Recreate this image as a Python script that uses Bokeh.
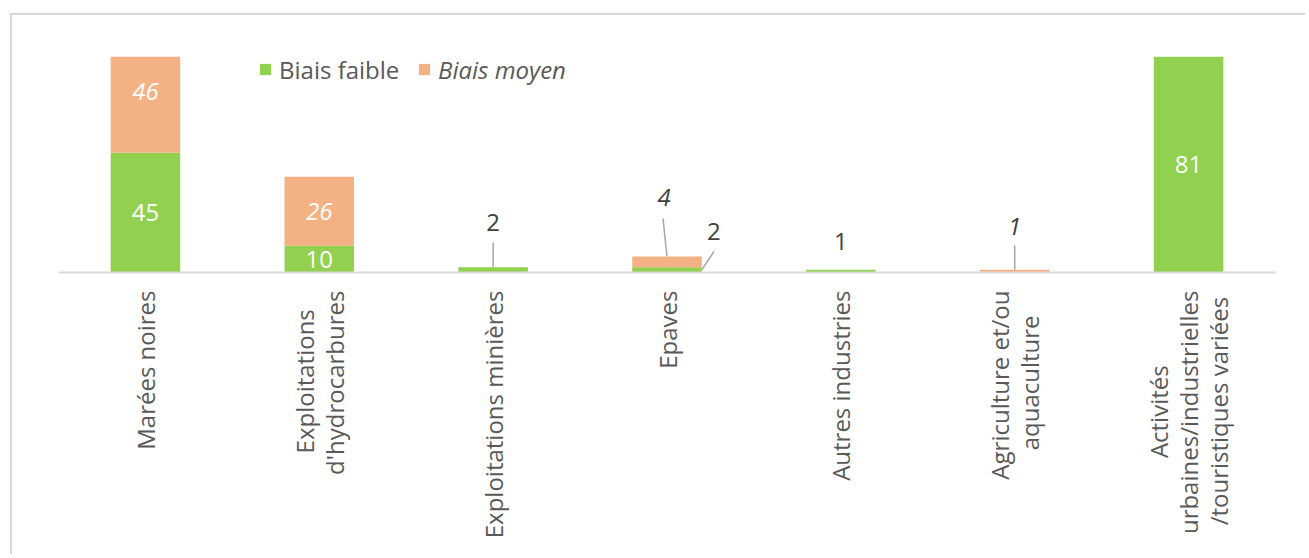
import math
from bokeh.plotting import figure
from bokeh.models import ColumnDataSource, FactorRange, Range1d, Legend, LegendItem
from bokeh.core.properties import value
from bokeh.embed import file_html
from bokeh.resources import INLINE

# ---------------- data ----------------
categories = [
    "Marées noires",
    "Exploitations\nd'hydrocarbures",
    "Exploitations minières",
    "Epaves",
    "Autres industries",
    "Agriculture et/ou\naquaculture",
    "Activités\nurbaines/industrielles\n/touristiques variées",
]
biais_faible = [45, 10, 2, 2, 1, 0, 81]
biais_moyen = [46, 26, 0, 4, 0, 1, 0]
series_names = ["Biais faible", "Biais moyen"]

# ---------------- style ----------------
GREEN = "#92d050"
ORANGE = "#f4b183"
FONT = "Open Sans"
AXIS_TXT = "#595959"
LBL_TXT = "#404040"
AXIS_MAX = 81      # value axis maximum (bars are cut at this value, as in the original)
Y_TOP = 86         # invisible head-room above the axis maximum for the legend
INSIDE_MIN = 10    # values drawn inside the bars
NB = "\u00a0"
# visual centring of the wrapped tick-label lines (non-breaking padding per line)
line_pad = {1: [3, 0], 5: [0, 4], 6: [12, 0, 1]}

factors = []
for i, c in enumerate(categories):
    pads = line_pad.get(i)
    if pads:
        c = "\n".join(l + NB * n for l, n in zip(c.split("\n"), pads))
    factors.append(c)

# bars cut at the axis maximum
faible_vis = [min(f, AXIS_MAX) for f in biais_faible]
moyen_vis = [max(0, min(m, AXIS_MAX - f)) for f, m in zip(faible_vis, biais_moyen)]

# outside-label placement (category offset, height above segment top) and leader (start dx, start dy, end dx, end dy)
outside_faible = {2: (0.0, 16.8, (0.0, 0.0, 0.0, 9.3)),
                  3: (0.27, 13.4, (0.2, -1.0, 0.27, 5.9)),
                  4: (0.0, 10.6, None)}
outside_moyen = {3: (-0.017, 22.1, (0.0, 0.0, -0.023, 14.3)),
                 5: (0.0, 16.3, (0.0, 0.0, 0.0, 9.1))}

src = ColumnDataSource(dict(cat=factors, faible=faible_vis, moyen=moyen_vis))

p = figure(x_range=FactorRange(*factors), y_range=Range1d(0, Y_TOP),
           width=1295, height=541, output_backend="svg", toolbar_location=None,
           y_axis_location=None,
           min_border_left=46, min_border_right=32, min_border_top=28, min_border_bottom=284)
p.styles = {"border-left": "2px solid #d9d9d9", "border-top": "2px solid #d9d9d9",
            "margin-left": "10px", "margin-top": "13px"}
p.outline_line_color = None
p.xgrid.visible = False
p.ygrid.visible = False
p.background_fill_color = "white"
p.border_fill_color = "white"

rs = p.vbar_stack(["faible", "moyen"], x="cat", width=0.4, color=[GREEN, ORANGE],
                  line_color=None, source=src)

ax = p.xaxis[0]
ax.axis_line_color = "#d9d9d9"
ax.axis_line_width = 2
ax.major_tick_line_color = None
ax.minor_tick_line_color = None
ax.major_label_orientation = math.pi / 2
ax.major_label_text_font = FONT
ax.major_label_text_font_size = "24px"
ax.major_label_text_color = AXIS_TXT
ax.major_label_text_line_height = 0.9
ax.major_label_standoff = 12

# ---------------- inside labels ----------------
in_x, in_y, in_t, in_style = [], [], [], []
for c, f, m in zip(factors, biais_faible, biais_moyen):
    if f >= INSIDE_MIN:
        in_x.append(c); in_y.append(f / 2); in_t.append(str(f)); in_style.append("normal")
    if m >= INSIDE_MIN:
        in_x.append(c); in_y.append(f + m / 2); in_t.append(str(m)); in_style.append("italic")
p.text(x="x", y="y", text="t", text_font_style="s",
       source=ColumnDataSource(dict(x=in_x, y=in_y, t=in_t, s=in_style)),
       text_font=value(FONT), text_font_size="24px", text_color="white",
       text_align="center", text_baseline="middle")

# ---------------- outside labels + leaders ----------------
ox, oy, ot, os_ = [], [], [], []
lx0, ly0, lx1, ly1 = [], [], [], []
for i, (dx, dy, lead) in outside_faible.items():
    top = biais_faible[i]
    ox.append((factors[i], dx)); oy.append(top + dy); ot.append(str(biais_faible[i])); os_.append("normal")
    if lead:
        base = top if lead[1] == 0.0 else top / 2
        lx0.append((factors[i], lead[0])); ly0.append(base)
        lx1.append((factors[i], lead[2])); ly1.append(top + lead[3])
for i, (dx, dy, lead) in outside_moyen.items():
    top = biais_faible[i] + biais_moyen[i]
    ox.append((factors[i], dx)); oy.append(top + dy); ot.append(str(biais_moyen[i])); os_.append("italic")
    if lead:
        lx0.append((factors[i], lead[0])); ly0.append(top)
        lx1.append((factors[i], lead[2])); ly1.append(top + lead[3])

p.segment(x0="x0", y0="y0", x1="x1", y1="y1",
          source=ColumnDataSource(dict(x0=lx0, y0=ly0, x1=lx1, y1=ly1)),
          line_color="#a6a6a6", line_width=1.5)
p.text(x="x", y="y", text="t", text_font_style="s",
       source=ColumnDataSource(dict(x=ox, y=oy, t=ot, s=os_)),
       text_font=value(FONT), text_font_size="24px", text_color=LBL_TXT,
       text_align="center", text_baseline="middle")

# ---------------- legends ----------------
PAD = 6
common = dict(orientation="horizontal", glyph_width=14, glyph_height=14, label_standoff=7,
              label_height=34, padding=PAD, margin=0, border_line_color=None,
              background_fill_alpha=0,
              label_text_font=FONT, label_text_font_size="24px", label_text_color=AXIS_TXT)
leg1 = Legend(items=[LegendItem(label=series_names[0], renderers=[rs[0]])],
              location=(200, 186), **common)
leg2 = Legend(items=[LegendItem(label=series_names[1], renderers=[rs[1]])],
              location=(359, 186), label_text_font_style="italic", **common)
p.add_layout(leg1)
p.add_layout(leg2)

open("out.html", "w").write(file_html(p, INLINE))
